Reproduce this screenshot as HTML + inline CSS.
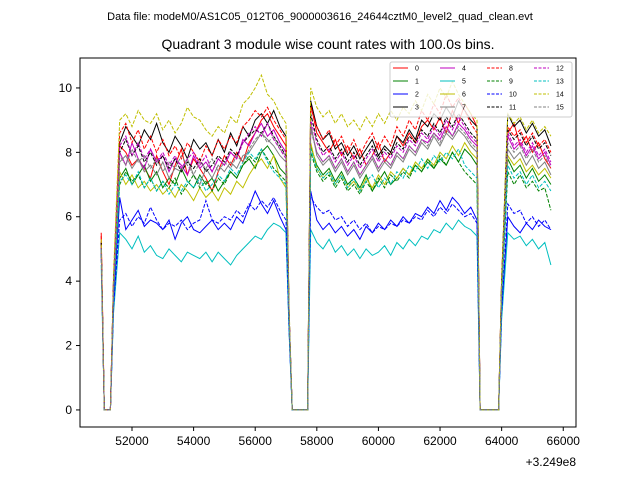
<!DOCTYPE html>
<html><head><meta charset="utf-8"><style>
body{margin:0;background:#fff;}
svg{display:block;font-family:"Liberation Sans","DejaVu Sans",sans-serif;}
</style></head><body>
<svg id="chart" width="640" height="480" viewBox="0 0 640 480">
<rect width="640" height="480" fill="#fff"/>
<text x="320" y="20" font-size="11" text-anchor="middle">Data file: modeM0/AS1C05_012T06_9000003616_24644cztM0_level2_quad_clean.evt</text>
<text x="328" y="49" font-size="14" text-anchor="middle">Quadrant 3 module wise count rates with 100.0s bins.</text>
<g id="plot"></g>
<rect x="80" y="58" width="496" height="369" fill="none" stroke="#000" stroke-width="1"/>
<g id="axes"></g>
<text x="576" y="466" font-size="12" text-anchor="end">+3.249e8</text>
<g id="legend"></g>
</svg>
<script>
const times = [51000,51100,51200,51300,51400,
 51600,51800,52000,52200,52400,52600,52800,53000,53200,53400,53600,53800,54000,54200,54400,54600,54800,55000,55200,55400,55600,55800,56000,56200,56400,56600,56800,57000,
 57100,57200,57400,57600,57700,
 57800,58000,58200,58400,58600,58800,59000,59200,59400,59600,59800,60000,60200,60400,60600,60800,61000,61200,61400,61600,61800,62000,62200,62400,62600,62800,63000,63200,
 63300,63500,63700,63900,64000,
 64200,64400,64600,64800,65000,65200,65400,65600];
const xTicks = [52000,54000,56000,58000,60000,62000,64000,66000];
const yTicks = [0,2,4,6,8,10];
const seriesNames = ["0","1","2","3","4","5","6","7","8","9","10","11","12","13","14","15"];
const s0 = [5.5,0,0,0,4, 8.2,8.0,7.6,7.8,7.5,7.2,7.9,7.4,7.0,7.6,8.1,7.3,7.8,7.5,7.2,6.8,7.4,7.9,7.6,8.0,7.7,8.3,8.6,9.0,9.2,8.8,8.5,8.2, 3,0,0,0,0, 9.5,8.6,8.3,8.0,8.4,7.9,8.2,7.8,8.1,7.6,7.9,8.3,7.7,8.0,8.5,8.2,8.6,8.3,8.8,9.0,8.7,9.1,8.6,9.3,8.9,9.5,9.2,8.8, 0,0,0,0, 4, 8.6,8.9,8.2,8.5,8.0,8.3,7.8,7.5];
const s1 = [5.0,0,0,0,3.6, 7.2,7.5,7.0,7.3,7.6,7.1,7.4,6.9,7.2,7.0,7.5,7.1,6.9,7.3,7.0,7.2,6.8,7.1,7.4,7.2,7.6,7.8,7.5,8.0,8.2,7.9,7.5,7.3, 2.8,0,0,0,0, 8.2,7.6,7.3,7.5,7.1,7.4,7.0,7.2,6.9,7.3,6.8,7.1,7.4,7.0,7.2,7.5,7.3,7.6,7.4,7.7,7.5,7.8,7.6,8.0,7.7,8.1,7.9,7.6, 0,0,0,0, 3.8, 7.8,7.4,7.6,7.2,7.5,7.1,7.3,7.0];
const s2 = [5.0,0,0,0,3.2, 6.6,5.6,5.9,6.2,5.7,5.9,5.8,5.6,5.9,5.3,5.8,6.0,5.6,5.5,5.7,5.9,5.6,5.8,5.6,6.0,5.8,6.3,6.8,6.4,6.1,6.5,6.0,5.6, 2.5,0,0,0,0, 6.8,5.9,5.6,5.8,5.5,5.7,5.4,5.6,5.3,5.7,5.5,5.8,5.6,5.9,5.7,6.0,5.8,6.1,6.0,6.3,6.1,6.5,6.2,6.6,6.4,6.1,6.3,5.9, 0,0,0,0, 3.0, 6.0,5.7,5.5,5.8,5.6,5.9,5.7,5.6];
const s3 = [5.2,0,0,0,4, 8.3,8.8,8.5,8.2,8.7,8.4,8.9,8.3,8.0,8.5,8.2,7.8,8.4,8.1,8.3,7.9,8.4,8.0,8.6,8.2,8.8,8.5,9.0,9.2,8.9,9.3,8.8,8.5, 3,0,0,0,0, 9.6,8.8,8.4,8.6,8.1,8.3,7.9,8.2,7.8,8.1,8.4,7.9,8.2,8.0,8.5,8.3,8.7,8.4,9.0,8.8,9.2,9.0,9.4,9.1,9.6,9.3,9.0,8.8, 0,0,0,0, 4, 9.2,8.8,9.0,8.6,8.9,8.5,8.7,8.2];
const s4 = [5.0,0,0,0,3.8, 8.0,7.6,8.3,7.8,7.5,8.1,7.7,7.9,7.4,7.8,7.6,7.3,7.9,7.5,7.7,7.4,7.8,7.6,8.0,7.8,8.4,8.2,8.6,8.9,8.5,8.7,8.3,8.0, 3,0,0,0,0, 8.8,8.0,7.7,7.9,7.5,7.8,7.4,7.7,7.3,7.6,7.9,7.5,7.8,7.6,8.0,7.8,8.2,8.0,8.4,8.3,8.6,8.4,8.8,8.5,8.9,8.7,8.4,8.2, 0,0,0,0, 3.6, 8.5,8.1,8.3,7.9,8.2,7.8,8.0,7.6];
const s5 = [4.5,0,0,0,3.0, 5.5,5.3,5.0,5.4,4.9,5.1,4.8,4.7,5.0,4.8,4.6,4.9,4.8,4.7,4.9,4.6,4.9,4.7,4.5,4.8,5.0,5.2,5.4,5.3,5.6,5.8,5.7,5.5, 2.4,0,0,0,0, 5.6,5.2,5.0,5.3,4.9,5.1,4.8,5.0,4.7,5.0,4.8,4.9,5.1,4.8,5.2,5.0,5.3,5.1,5.4,5.3,5.6,5.5,5.8,5.6,5.9,5.7,5.6,5.4, 0,0,0,0, 2.8, 5.5,5.3,5.4,5.1,5.3,5.0,5.2,4.5];
const s6 = [5.1,0,0,0,3.6, 7.4,7.0,7.3,6.9,7.1,6.8,7.0,6.7,6.9,6.6,7.0,6.8,6.5,6.9,6.6,6.8,6.5,6.9,6.7,7.1,6.9,7.3,7.6,7.8,7.5,7.9,7.2,6.9, 2.8,0,0,0,0, 8.3,7.5,7.2,7.4,7.0,7.3,6.9,7.1,6.8,7.2,6.9,7.3,7.0,7.4,7.2,7.5,7.3,7.7,7.5,7.8,7.6,8.0,7.8,8.2,7.9,8.3,8.0,7.8, 0,0,0,0, 3.6, 7.9,7.6,7.8,7.4,7.6,7.3,7.5,7.2];
const s7 = [5.0,0,0,0,3.8, 7.7,7.9,7.5,7.8,7.4,7.6,7.3,7.7,7.2,7.5,7.4,7.8,7.3,7.0,7.5,7.2,7.6,7.4,7.7,7.5,7.9,8.0,8.3,8.6,8.4,8.2,7.9,7.7, 3,0,0,0,0, 8.9,7.9,7.6,7.8,7.4,7.7,7.3,7.6,7.2,7.5,7.8,7.4,7.7,7.5,7.9,7.7,8.1,7.9,8.3,8.1,8.5,8.2,8.6,8.4,8.7,8.5,8.2,8.0, 0,0,0,0, 3.7, 8.1,7.8,8.0,7.6,7.9,7.5,7.7,7.3];
const s8 = [5.4,0,0,0,4, 8.6,8.9,8.3,8.7,8.1,8.5,8.0,8.4,7.9,8.2,7.8,8.3,8.0,7.7,8.2,7.9,8.4,8.1,8.5,8.3,8.8,9.0,9.3,9.1,9.4,9.0,8.7,8.4, 3,0,0,0,0, 9.4,8.8,8.4,8.7,8.2,8.5,8.0,8.4,7.9,8.3,8.6,8.1,8.5,8.2,8.8,8.5,9.0,8.7,9.3,9.0,9.5,9.2,9.8,9.4,9.7,9.3,8.9,8.6, 0,0,0,0, 4, 8.8,8.5,8.7,8.3,8.6,8.2,8.4,8.0];
const s9 = [5.0,0,0,0,3.6, 7.0,7.4,7.1,7.3,6.9,7.2,6.8,7.1,6.9,7.2,6.7,7.0,7.3,6.9,7.1,6.8,7.2,7.0,7.4,7.2,7.6,7.9,7.7,8.1,7.8,7.5,7.3,7.1, 2.8,0,0,0,0, 8.0,7.4,7.1,7.3,6.9,7.2,6.8,7.0,6.7,7.1,6.8,7.2,6.9,7.3,7.1,7.4,7.2,7.6,7.4,7.8,7.5,7.9,7.6,8.0,7.7,7.4,7.2,7.0, 0,0,0,0, 3.5, 7.4,7.0,7.3,6.9,7.1,6.8,6.9,6.2];
const s10 = [5.0,0,0,0,3.2, 5.9,6.1,5.7,6.0,5.8,6.3,5.9,5.6,5.8,5.7,5.9,5.6,5.8,5.9,6.5,5.9,5.8,6.0,5.9,6.2,6.0,6.4,6.2,6.5,6.3,6.6,6.2,5.9, 2.5,0,0,0,0, 6.6,6.3,6.1,6.2,5.9,6.0,5.7,5.9,5.6,5.8,5.5,5.7,5.6,5.8,5.7,5.9,5.8,6.0,5.9,6.2,6.0,6.3,6.1,6.4,6.2,6.0,6.1,5.8, 0,0,0,0, 3.0, 6.4,6.1,6.2,5.8,6.0,5.7,5.9,5.6];
const s11 = [5.2,0,0,0,3.9, 8.0,8.4,7.9,8.2,7.7,8.0,7.6,7.9,7.5,7.8,7.4,7.7,7.5,7.8,7.4,7.6,7.9,7.7,8.1,7.9,8.3,8.5,8.7,8.6,8.9,8.5,8.2,7.9, 3,0,0,0,0, 9.2,8.4,8.0,8.2,7.8,8.1,7.7,8.0,7.6,7.9,8.2,7.8,8.1,7.9,8.3,8.1,8.5,8.3,8.7,8.5,8.9,8.6,9.1,8.8,9.2,8.9,8.6,8.4, 0,0,0,0, 3.8, 8.7,8.4,8.6,8.2,8.5,8.1,8.3,7.9];
const s12 = [5.1,0,0,0,3.8, 8.2,8.5,7.9,8.3,7.8,8.1,7.7,8.0,7.6,7.9,7.5,7.8,8.0,7.6,7.9,7.4,7.8,7.6,8.0,7.8,8.3,8.6,8.8,8.5,8.9,8.4,8.1,7.8, 3,0,0,0,0, 9.0,8.3,7.9,8.1,7.7,8.0,7.6,7.9,7.5,7.8,8.1,7.7,8.0,7.8,8.2,8.0,8.4,8.2,8.6,8.4,8.8,8.5,9.0,8.7,9.1,8.8,8.5,8.3, 0,0,0,0, 3.7, 8.6,8.2,8.4,8.0,8.3,7.9,8.1,7.7];
const s13 = [5.0,0,0,0,3.6, 7.1,7.3,7.0,7.4,6.9,7.2,6.8,7.1,6.7,7.0,6.8,7.1,6.9,7.2,6.8,7.0,7.3,7.1,7.5,7.3,7.7,8.0,7.8,8.1,7.7,7.4,7.2,7.0, 2.8,0,0,0,0, 8.1,7.5,7.2,7.4,7.0,7.3,6.9,7.2,6.8,7.1,7.3,6.9,7.2,7.0,7.4,7.2,7.6,7.4,7.8,7.5,7.9,7.7,8.0,7.8,8.1,7.6,7.4,7.2, 0,0,0,0, 3.5, 7.6,7.2,7.4,7.0,7.3,6.9,7.1,6.8];
const s14 = [5.3,0,0,0,4.2, 9.0,9.2,8.8,9.3,9.0,8.9,9.2,8.7,9.0,8.6,8.9,9.4,9.1,9.0,8.7,8.5,8.8,8.6,9.1,8.9,9.5,9.7,10.0,10.4,9.8,9.6,9.2,8.9, 3.2,0,0,0,0, 10.0,9.4,9.1,9.3,8.9,9.2,8.8,9.0,8.7,9.1,8.8,9.2,8.9,9.3,9.0,9.4,9.2,9.6,9.3,9.8,9.5,10.0,9.7,10.2,9.8,9.5,9.2,9.0, 0,0,0,0, 4.1, 9.2,8.9,9.1,8.7,9.0,8.6,8.8,8.5];
const s15 = [5.0,0,0,0,3.8, 7.9,7.6,8.1,7.7,7.9,7.5,7.8,7.4,7.7,7.5,7.9,7.6,7.3,7.7,7.5,7.8,7.4,7.7,7.5,7.9,7.7,8.1,8.4,8.6,8.3,8.5,8.1,7.9, 3,0,0,0,0, 8.7,8.0,7.7,7.9,7.5,7.8,7.4,7.7,7.3,7.6,7.9,7.5,7.8,7.6,8.0,7.8,8.2,8.0,8.4,8.2,8.6,8.3,8.7,8.5,8.8,8.6,8.3,8.1, 0,0,0,0, 3.7, 8.3,8.0,8.2,7.8,8.1,7.7,7.9,7.5];
const seriesValues = [s0,s1,s2,s3,s4,s5,s6,s7,s8,s9,s10,s11,s12,s13,s14,s15];
const colors = ["#ff0000","#008000","#0000ff","#000000","#bf00bf","#00bfbf","#bfbf00","#808080"];

const NS = "http://www.w3.org/2000/svg";
const X0 = 80, X1 = 576, Y0 = 58, Y1 = 427;
const xMin = 50312, xMax = 66414, yMin = -0.53, yMax = 10.93;
function xs(t){ return X0 + (t - xMin) / (xMax - xMin) * (X1 - X0); }
function ys(v){ return Y1 - (v - yMin) / (yMax - yMin) * (Y1 - Y0); }
function mk(tag, attrs){ const e = document.createElementNS(NS, tag); for (const k in attrs) e.setAttribute(k, attrs[k]); return e; }

const axes = document.getElementById("axes");
xTicks.forEach(t => {
  const x = xs(t);
  const tk = mk("line", {x1:x, x2:x, y1:Y1, y2:Y1+4, stroke:"#000"});
  
  
  axes.appendChild(tk);
  const lb = mk("text", {x:x, y:Y1+18, "font-size":12, "text-anchor":"middle"});
  lb.textContent = t;
  
  
  axes.appendChild(lb);
});
yTicks.forEach(v => {
  const y = ys(v);
  const tk = mk("line", {x1:X0-4, x2:X0, y1:y, y2:y, stroke:"#000"});
  
  
  axes.appendChild(tk);
  const lb = mk("text", {x:X0-8, y:y+4, "font-size":12, "text-anchor":"end"});
  lb.textContent = v;
  
  
  axes.appendChild(lb);
});

const plot = document.getElementById("plot");
seriesValues.forEach((vals, i) => {
  const pts = vals.map((v, j) => xs(times[j]).toFixed(1) + "," + ys(v).toFixed(1)).join(" ");
  const pl = mk("polyline", {points:pts, fill:"none", stroke:colors[i % 8], "stroke-width":1});
  if (i >= 8) pl.setAttribute("stroke-dasharray", "3.7,1.6");
  
  
  plot.appendChild(pl);
});

const lg = document.getElementById("legend");
const box = mk("rect", {x:390, y:62, width:182, height:55, fill:"#fff", "fill-opacity":0.8, stroke:"#ccc", rx:2});


lg.appendChild(box);
seriesNames.forEach((n, i) => {
  const col = Math.floor(i / 4), row = i % 4;
  const lx = 393 + col * 47, ly = 68 + row * 13;
  const g = mk("g", {});
  
  
  const ln = mk("line", {x1:lx, x2:lx+15, y1:ly, y2:ly, stroke:colors[i % 8], "stroke-width":1});
  if (i >= 8) ln.setAttribute("stroke-dasharray", "3,1.5");
  g.appendChild(ln);
  const tx = mk("text", {x:lx+22, y:ly+2.5, "font-size":7});
  tx.textContent = n;
  g.appendChild(tx);
  lg.appendChild(g);
});
</script>
</body></html>
